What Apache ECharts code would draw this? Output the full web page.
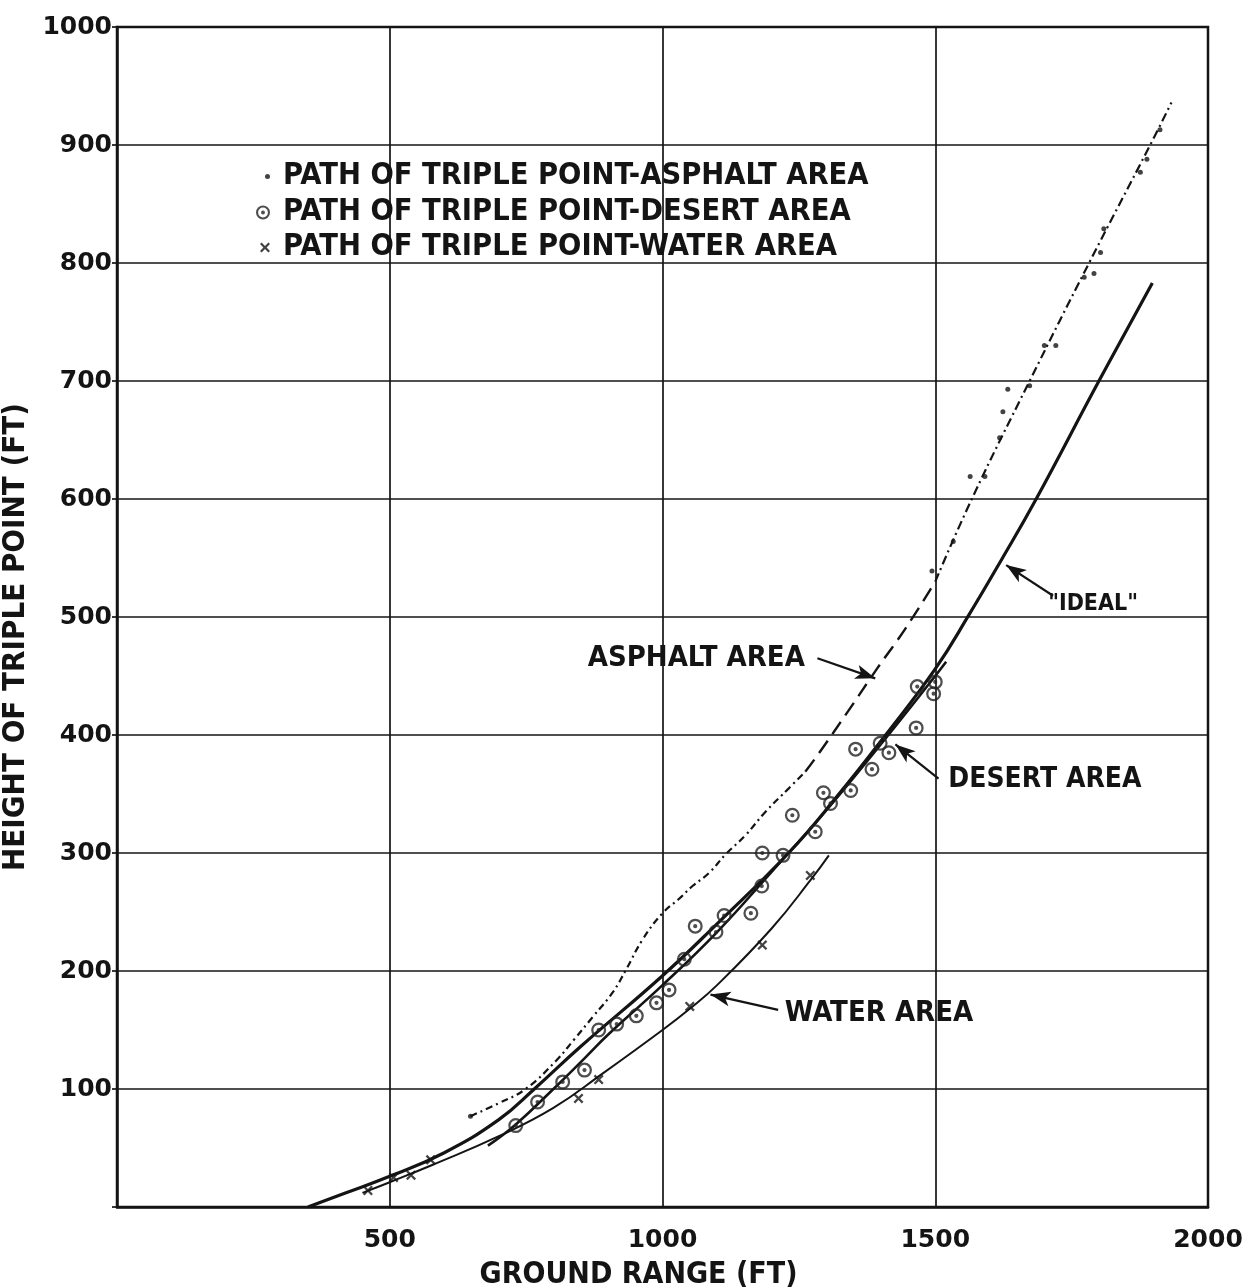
<!DOCTYPE html>
<html><head><meta charset="utf-8">
<script src="https://cdn.jsdelivr.net/npm/echarts@6/dist/echarts.min.js"></script>
<style>html,body{margin:0;padding:0;background:#fff}#c{width:1256px;height:1288px}</style>
</head><body><div id="c"></div>
<script>
// ---------- DATA (ground range ft, height ft) ----------
const xTicks = [0, 500, 1000, 1500, 2000];
const yTicks = [0, 100, 200, 300, 400, 500, 600, 700, 800, 900, 1000];

const idealCurve = [[350,0],[420,12],[500,26],[600,46],[700,74],[765,100],[850,136],[1000,196],[1100,240],[1231,300],[1320,348],[1409,400],[1500,456],[1562,502],[1622,549],[1685,600],[1800,700],[1898,783]];
const desertCurve = [[680,52],[731,70],[800,100],[857,126],[900,146],[1000,188],[1100,233],[1200,284],[1300,336],[1400,392],[1500,450],[1520,462]];
const waterCurve = [[450,12],[500,21],[580,36],[700,60],[800,84],[890,113],[1000,150],[1050,168],[1100,188],[1200,236],[1273,278],[1305,298]];
const asphaltCurve = [[648,77],[700,88],[749,100],[805,124],[838,142],[872,161],[909,182],[933,201],[964,227],[1000,249],[1030,261],[1055,272],[1085,283],[1116,299],[1152,315],[1189,335],[1232,355],[1262,369],[1289,386],[1340,420],[1393,456],[1445,490],[1500,530],[1567,600],[1673,700],[1782,800],[1894,900],[1933,936]];

const asphaltPoints = [[648,77],[1494,539],[1533,564],[1564,619],[1591,619],[1618,652],[1624,674],[1633,693],[1673,696],[1700,730],[1721,730],[1773,788],[1791,791],[1803,809],[1809,829],[1876,877],[1888,888],[1912,913]];
const desertPoints = [[731,69],[771,89],[817,106],[857,116],[883,150],[916,155],[952,162],[989,173],[1012,184],[1040,210],[1060,238],[1098,233],[1113,247],[1162,249],[1182,272],[1183,300],[1221,298],[1238,332],[1280,318],[1295,351],[1308,342],[1345,353],[1354,388],[1384,371],[1399,393],[1415,385],[1465,406],[1467,441],[1500,445],[1497,435]];
const waterPoints = [[460,14],[507,25],[539,27],[575,40],[846,92],[883,108],[1050,170],[1183,222],[1271,281]];

const legendNames = ['PATH OF TRIPLE POINT-ASPHALT AREA', 'PATH OF TRIPLE POINT-DESERT AREA', 'PATH OF TRIPLE POINT-WATER AREA'];
const labelTexts = ['ASPHALT AREA', '"IDEAL"', 'DESERT AREA', 'WATER AREA'];
const labelAnchors = [[1261,465],[1707,511],[1524,362],[1224,164]];
const labelAligns = ['right','left','left','left'];
const labelSizes = [29, 23, 28, 29];
const arrowFrom = [[1284,465],[1716,518],[1506,363],[1212,167]];
const arrowTo = [[1390,448],[1630,544],[1427,392],[1088,180]];

// ---------- STYLE ----------
const ink = '#141414';
const FONT = 'DejaVu Sans';
const COND = 'DejaVu Sans Condensed';
const ringPath = 'path://M0,-10A10,10,0,1,1,0,10A10,10,0,1,1,0,-10ZM0,-7A7,7,0,1,0,0,7A7,7,0,1,0,0,-7ZM0,-2.8A2.8,2.8,0,1,1,0,2.8A2.8,2.8,0,1,1,0,-2.8Z';
const crossPath = 'path://M1.6,0L5,3.4L8.4,0L10,1.6L6.6,5L10,8.4L8.4,10L5,6.6L1.6,10L0,8.4L3.4,5L0,1.6Z';

const chart = echarts.init(document.getElementById('c'));

const lowA = asphaltCurve.filter(p => p[0] <= 1262);
const midA = asphaltCurve.filter(p => p[0] >= 1262 && p[0] <= 1500);
const highA = asphaltCurve.filter(p => p[0] >= 1500);

function lineSeries(data, width, type, z) {
  return {type:'line', data, smooth:0.45, showSymbol:false, symbol:'none',
    silent:true, z, lineStyle:{color:ink, width, type}};
}

const legendCommon = {orient:'vertical', padding:0, itemTextGap:13, selectedMode:false,
  textStyle:{fontFamily:COND, fontWeight:'bold', fontSize:30.5, color:ink, lineHeight:30, padding:[0,0,0,8]}};

chart.setOption({
  animation:false,
  backgroundColor:'#ffffff',
  grid:{left:117, right:48, top:27, bottom:81, show:true, borderColor:ink, borderWidth:2.5, outerBoundsMode:'none'},
  xAxis:{type:'value', min:xTicks[0], max:xTicks[xTicks.length-1], interval:500,
    name:'GROUND RANGE (FT)', nameLocation:'middle', nameGap:53,
    nameTextStyle:{fontFamily:COND, fontWeight:'bold', fontSize:30, color:ink, padding:[0,48,0,0]},
    axisLine:{show:true, lineStyle:{color:ink, width:2.5}},
    axisTick:{show:false},
    axisLabel:{margin:21, fontFamily:FONT, fontWeight:'bold', fontSize:25, color:ink,
      formatter:v => (v === 0 ? '' : String(v))},
    splitLine:{show:true, lineStyle:{color:ink, width:1.7}}},
  yAxis:{type:'value', min:yTicks[0], max:yTicks[yTicks.length-1], interval:100,
    name:'HEIGHT OF TRIPLE POINT (FT)', nameLocation:'middle', nameGap:70,
    nameTextStyle:{fontFamily:COND, fontWeight:'bold', fontSize:31, color:ink, padding:[0,40,0,0]},
    axisLine:{show:true, lineStyle:{color:ink, width:2.5}},
    axisTick:{show:true, length:5, lineStyle:{color:ink, width:1.7}},
    axisLabel:{margin:5, fontFamily:FONT, fontWeight:'bold', fontSize:25, color:ink,
      formatter:v => (v === 0 ? '' : String(v))},
    splitLine:{show:true, lineStyle:{color:ink, width:1.7}}},
  legend:[
    Object.assign({}, legendCommon, {data:[legendNames[0]], left:265, top:161, itemWidth:5, itemHeight:5}),
    Object.assign({}, legendCommon, {data:[legendNames[1]], left:256, top:197, itemWidth:14, itemHeight:14}),
    Object.assign({}, legendCommon, {data:[legendNames[2]], left:260, top:232, itemWidth:10, itemHeight:10})
  ],
  series:[
    Object.assign(lineSeries(idealCurve, 3.2, 'solid', 3), {
      markLine:{silent:true, symbol:['none','arrow'], symbolSize:[11,20], label:{show:false},
        lineStyle:{color:ink, width:2.2, type:'solid'}, emphasis:{disabled:true},
        data: arrowFrom.map((f,i) => [{coord:f}, {coord:arrowTo[i]}])}
    }),
    lineSeries(desertCurve, 2.6, 'solid', 3),
    lineSeries(waterCurve, 2, 'solid', 3),
    lineSeries(lowA, 2.2, [7,4,2,4], 3),
    lineSeries(midA, 2.4, [15,8], 3),
    lineSeries(highA, 2.2, [9,4,2,4], 3),
    {name:legendNames[0], type:'scatter', data:asphaltPoints, symbol:'circle', symbolSize:5, z:5,
      itemStyle:{color:ink}, silent:true},
    {name:legendNames[1], type:'scatter', data:desertPoints, symbol:ringPath, symbolSize:15, z:5,
      itemStyle:{color:'#222222'}, silent:true},
    {name:legendNames[2], type:'scatter', data:waterPoints, symbol:crossPath, symbolSize:10, z:5,
      itemStyle:{color:ink}, silent:true}
  ]
});

// annotation texts placed through the chart's own scales
const graphics = labelTexts.map((t, i) => {
  const p = chart.convertToPixel({gridIndex:0}, labelAnchors[i]);
  return {type:'text', x:p[0], y:p[1], z:10, silent:true,
    style:{text:t, fill:ink, font:'bold ' + labelSizes[i] + 'px "DejaVu Sans Condensed"', textAlign:labelAligns[i], textVerticalAlign:'middle'}};
});
chart.setOption({graphic:graphics});
</script>
</body></html>
